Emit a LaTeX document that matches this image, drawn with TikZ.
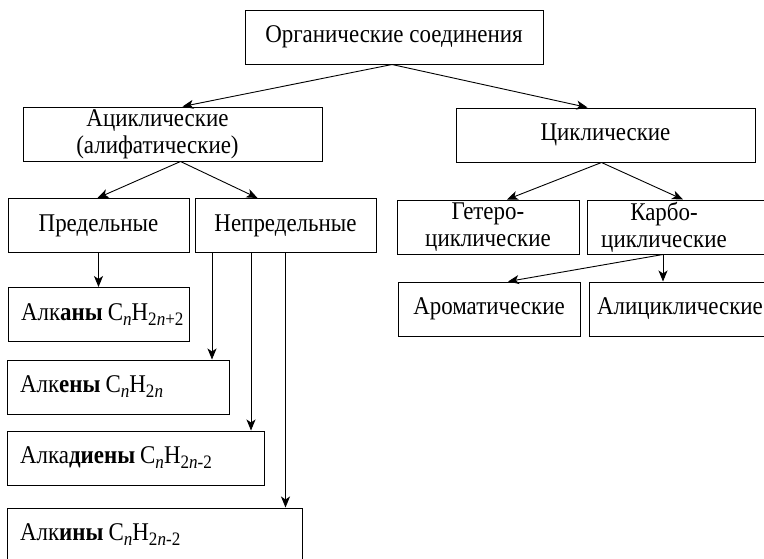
\documentclass[tikz,border=0pt]{standalone}
\usepackage{fontspec}
\setmainfont{Liberation Serif}[FakeStretch=0.9]
\usetikzlibrary{arrows.meta}
\newcommand\lowsub[1]{\raisebox{-5pt}{\fontsize{19}{19}\selectfont #1}}

\begin{document}
\begin{tikzpicture}[x=1pt,y=-1pt,
	txt/.style={align=center,font=\fontsize{25.5}{27}\selectfont},
	box/.style={draw,line width=1pt,minimum height=54pt,inner sep=0pt,txt},
	cbox/.style={box,minimum width=#1},
	lbox/.style={box,text width=#1,inner xsep=13pt,align=left},
	arr/.style={-{Stealth[length=11pt,width=9pt,inset=3pt]},line width=0.9pt}]
	\useasboundingbox (0,0) rectangle (764,558);
	\clip (0,0) rectangle (764,558);
	\node[cbox=298pt] (org) at (394,37) {Органические соединения};
	\node[cbox=299pt,label={[txt,xshift=-15pt]center:Ациклические\\(алифатические)}] (acyc) at (172.5,134) {};
	\node[cbox=299pt] (cyc) at (605.5,135) {Циклические};
	\node[cbox=181pt] (pred) at (98.5,225.5) {Предельные};
	\node[cbox=181pt] (nepred) at (285.5,225.5) {Непредельные};
	\node[cbox=182pt] (hetero) at (488,227) {Гетеро-\\циклические};
	\node[cbox=182pt,label={[txt,xshift=-14pt]center:Карбо-\\циклические}] (carbo) at (678,227) {};
	\node[cbox=182pt] (arom) at (489,309) {Ароматические};
	\node[cbox=182pt] (alicyc) at (680,309) {Алициклические};
	\node[lbox=155pt] (alkany) at (98.5,314.5) {Алк\textbf{аны}\kern5pt C\lowsub{\textit{n}}H\lowsub{2\textit{n}+2}};
	\node[lbox=196pt] (alkeny) at (118,387) {Алк\textbf{ены}\kern5pt C\lowsub{\textit{n}}H\lowsub{2\textit{n}}};
	\node[lbox=231pt] (alkadieny) at (135.5,458) {Алка\textbf{диены}\kern5pt C\lowsub{\textit{n}}H\lowsub{2\textit{n}-2}};
	\node[lbox=269pt] (alkiny) at (154.5,535) {Алк\textbf{ины}\kern5pt C\lowsub{\textit{n}}H\lowsub{2\textit{n}-2}};
	\draw[arr] ([xshift=-2pt]org.south) -- ([xshift=10pt]acyc.north);
	\draw[arr] ([xshift=-2pt]org.south) -- ([xshift=-18pt]cyc.north);
	\draw[arr] ([xshift=8pt]acyc.south) -- ([xshift=-1pt]pred.north);
	\draw[arr] ([xshift=8pt]acyc.south) -- ([xshift=-28pt]nepred.north);
	\draw[arr] ([xshift=-4pt]cyc.south) -- ([xshift=19pt]hetero.north);
	\draw[arr] ([xshift=-4pt]cyc.south) -- ([xshift=5pt]carbo.north);
	\draw[arr] (pred) -- (alkany);
	\draw[arr] ([xshift=-73.5pt]nepred.south) -- ([xshift=-73.5pt]nepred.south |- alkeny.north);
	\draw[arr] ([xshift=-34.5pt]nepred.south) -- ([xshift=-34.5pt]nepred.south |- alkadieny.north);
	\draw[arr] (nepred.south) -- (nepred.south |- alkiny.north);
	\draw[arr] ([xshift=-15pt]carbo.south) -- ([xshift=-15pt]carbo.south |- alicyc.north);
	\draw[arr] ([xshift=-15pt]carbo.south) -- ([xshift=19pt]arom.north);
\end{tikzpicture}
\end{document}
